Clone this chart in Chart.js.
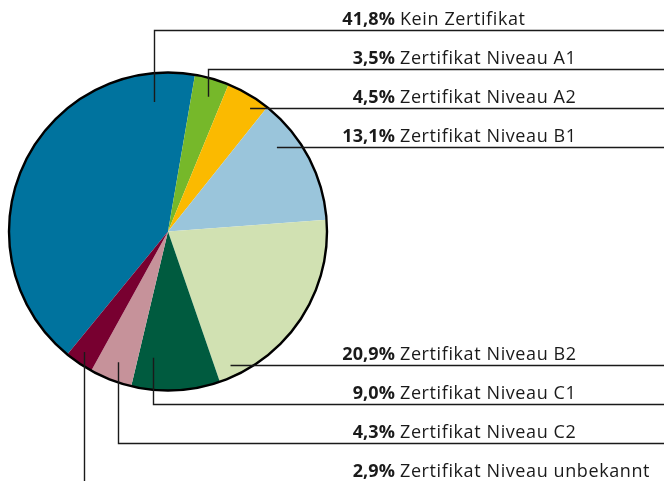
<!DOCTYPE html>
<html>
<head>
<meta charset="utf-8">
<script src="https://cdn.jsdelivr.net/npm/chart.js@4"></script>
<style>
  html, body { margin: 0; padding: 0; background: #fff; }
  #wrap { width: 664px; height: 481px; position: relative; }
</style>
</head>
<body>
<div id="wrap"><canvas id="pieChart"></canvas></div>
<script>
const categories = [
  'Kein Zertifikat',
  'Zertifikat Niveau A1',
  'Zertifikat Niveau A2',
  'Zertifikat Niveau B1',
  'Zertifikat Niveau B2',
  'Zertifikat Niveau C1',
  'Zertifikat Niveau C2',
  'Zertifikat Niveau unbekannt'
];
const shares = [41.8, 3.5, 4.5, 13.1, 20.9, 9.0, 4.3, 2.9];
const colors = ['#00739e', '#76b82a', '#fbba00', '#9ac5db', '#d1e1b2', '#005b3f', '#c6929a', '#780030'];

// label rows (y of the leader line) and where each leader starts inside its slice
const rowY = [30.5, 69.5, 108.5, 147.5, 365.5, 404.5, 443.5, 482.5];
const leaders = [
  { type: 'v', frac: 0.894, rf: 0.82 },
  { type: 'v', frac: 0.54, rf: 0.885 },
  { type: 'h', rf: 0.93 },
  { type: 'h', rf: 0.865 },
  { type: 'h', rf: 0.93 },
  { type: 'v', frac: 0.8, rf: 0.8 },
  { type: 'v', frac: 0.48, rf: 0.88 },
  { type: 'v', frac: 0.58, rf: 0.925 }
];

const fmt = (v) => v.toFixed(1).replace('.', ',') + '%';

const labelPlugin = {
  id: 'leaderLabels',
  afterDatasetsDraw(chart) {
    const ctx = chart.ctx;
    const arcs = chart.getDatasetMeta(0).data;
    const cx = arcs[0].x, cy = arcs[0].y, R = arcs[0].outerRadius;

    // outer rim
    ctx.save();
    ctx.beginPath();
    ctx.arc(cx, cy, R, 0, Math.PI * 2);
    ctx.lineWidth = 2.4;
    ctx.strokeStyle = '#000';
    ctx.stroke();

    ctx.lineWidth = 1.4;
    ctx.strokeStyle = '#1a1a1a';
    arcs.forEach((arc, i) => {
      const L = leaders[i];
      const y = rowY[i];
      const r = R * L.rf;
      ctx.beginPath();
      if (L.type === 'v') {
        const a = arc.startAngle + (arc.endAngle - arc.startAngle) * L.frac;
        const x = Math.round(cx + r * Math.cos(a)) + 0.5;
        const y0 = cy + r * Math.sin(a);
        ctx.moveTo(x, y0);
        ctx.lineTo(x, y);
        ctx.lineTo(chart.width, y);
      } else {
        const dx = Math.sqrt(Math.max(0, r * r - (y - cy) * (y - cy)));
        ctx.moveTo(cx + dx, y);
        ctx.lineTo(chart.width, y);
      }
      ctx.stroke();
    });

    ctx.fillStyle = '#1a1a1a';
    ctx.textBaseline = 'alphabetic';
    categories.forEach((name, i) => {
      const base = rowY[i] - 5.7;
      ctx.font = 'bold 18px "Open Sans"';
      ctx.letterSpacing = '0.1px';
      ctx.textAlign = 'right';
      ctx.fillText(fmt(shares[i]), 395, base);
      ctx.font = '18px "Open Sans"';
      ctx.letterSpacing = '0.6px';
      ctx.textAlign = 'left';
      ctx.fillText(name, 400, base);
    });
    ctx.restore();
  }
};

new Chart(document.getElementById('pieChart'), {
  type: 'pie',
  data: {
    labels: categories,
    datasets: [{
      data: shares,
      backgroundColor: colors,
      borderWidth: 0
    }]
  },
  options: {
    responsive: true,
    maintainAspectRatio: false,
    animation: false,
    rotation: -140.7,
    layout: { padding: { left: 9, top: 72, right: 337, bottom: 90 } },
    plugins: {
      legend: { display: false },
      tooltip: { enabled: false }
    }
  },
  plugins: [labelPlugin]
});
</script>
</body>
</html>
